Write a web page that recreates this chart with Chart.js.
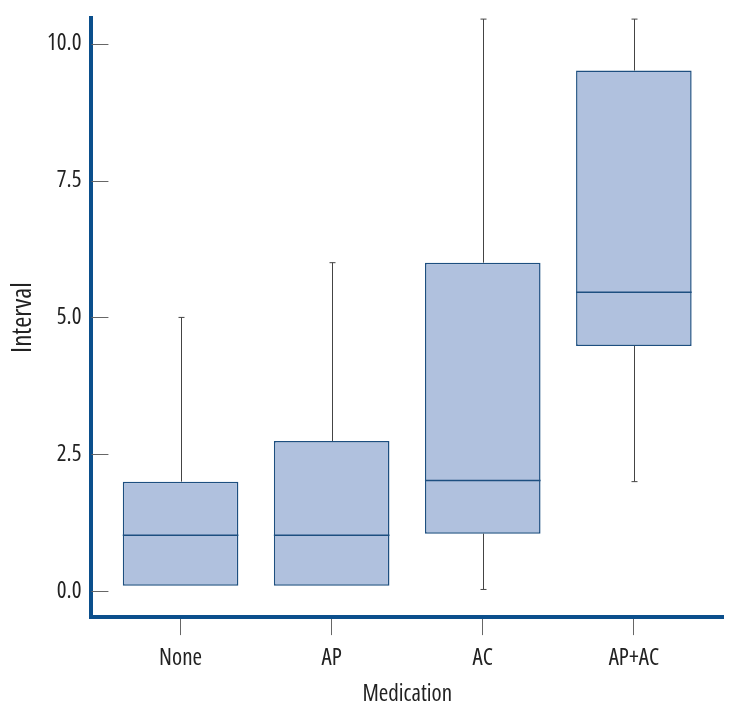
<!DOCTYPE html>
<html>
<head>
<meta charset="utf-8">
<script src="https://cdn.jsdelivr.net/npm/chart.js@4"></script>
<style>
  body { margin: 0; background: #fff; }
  #wrap { width: 738px; height: 708px; }
</style>
</head>
<body>
<div id="wrap"><canvas id="myChart" width="738" height="708"></canvas></div>
<script>
// Box plot values
const categories = ['None', 'AP', 'AC', 'AP+AC'];
const whiskerLow = [0.1, 0.1, 0.03, 2.0];
const q1 = [0.1, 0.1, 1.05, 4.48];
const median = [1.02, 1.02, 2.02, 5.46];
const q3 = [2.0, 2.74, 6.0, 9.51];
const whiskerHigh = [5.0, 6.0, 10.45, 10.45];
const yTicks = [0, 2.5, 5, 7.5, 10];

// 'condensed' goes in the weight slot so the canvas font string picks the narrow width
const FONT = "'Open Sans', 'Roboto Condensed', sans-serif";
const AXIS_BLUE = '#0b4f8c';
const BOX_EDGE = '#1d4f80';

// draws whiskers, caps, medians and the inward y ticks
const boxExtras = {
    id: 'boxExtras',
    afterDatasetsDraw(chart) {
        const ctx = chart.ctx;
        const xs = chart.scales.x, ys = chart.scales.y;
        const meta = chart.getDatasetMeta(0);
        ctx.save();
        categories.forEach((c, i) => {
            const x = Math.round(xs.getPixelForValue(i)) + 0.5;
            const bar = meta.data[i];
            const half = bar.width / 2;
            ctx.strokeStyle = '#444';
            ctx.lineWidth = 1;
            ctx.beginPath();
            if (whiskerHigh[i] > q3[i]) {
                const yTop = ys.getPixelForValue(whiskerHigh[i]);
                ctx.moveTo(x, ys.getPixelForValue(q3[i]));
                ctx.lineTo(x, yTop);
                ctx.moveTo(x - 3, yTop);
                ctx.lineTo(x + 3, yTop);
            }
            if (whiskerLow[i] < q1[i]) {
                const yBot = ys.getPixelForValue(whiskerLow[i]);
                ctx.moveTo(x, ys.getPixelForValue(q1[i]));
                ctx.lineTo(x, yBot);
                ctx.moveTo(x - 3, yBot);
                ctx.lineTo(x + 3, yBot);
            }
            ctx.stroke();
            // median
            const ym = ys.getPixelForValue(median[i]);
            ctx.strokeStyle = BOX_EDGE;
            ctx.lineWidth = 1.5;
            ctx.beginPath();
            ctx.moveTo(bar.x - half, ym);
            ctx.lineTo(bar.x + half, ym);
            ctx.stroke();
        });
        // y ticks point into the plot
        ctx.strokeStyle = '#666';
        ctx.lineWidth = 1;
        ctx.beginPath();
        yTicks.forEach(v => {
            const y = Math.round(ys.getPixelForValue(v)) + 0.5;
            ctx.moveTo(chart.chartArea.left, y);
            ctx.lineTo(chart.chartArea.left + 17, y);
        });
        ctx.stroke();
        ctx.restore();
    }
};

const ctx = document.getElementById('myChart').getContext('2d');
new Chart(ctx, {
    type: 'bar',
    data: {
        datasets: [{
            data: categories.map((c, i) => ({ x: i, y: [q1[i], q3[i]] })),
            backgroundColor: '#b0c1de',
            borderColor: BOX_EDGE,
            borderWidth: 1.5,
            borderSkipped: false,
            categoryPercentage: 1,
            barPercentage: 0.765
        }]
    },
    options: {
        responsive: false,
        animation: false,
        layout: { padding: { left: 10, top: 18, right: 15, bottom: 1 } },
        plugins: { legend: { display: false }, tooltip: { enabled: false } },
        scales: {
            x: {
                type: 'linear',
                offset: false,
                min: -0.59,
                max: 3.59,
                afterBuildTicks: axis => { axis.ticks = [0, 1, 2, 3].map(v => ({ value: v })); },
                ticks: {
                    callback: v => categories[v],
                    color: '#222',
                    font: { family: FONT, weight: 'condensed', size: 23 },
                    padding: 9.5
                },
                grid: { offset: false, drawOnChartArea: false, drawTicks: true, tickLength: 18, color: '#666' },
                border: { color: AXIS_BLUE, width: 4 },
                title: {
                    display: true,
                    text: 'Medication',
                    color: '#222',
                    font: { family: FONT, weight: 'condensed', size: 23, lineHeight: 1.1 },
                    padding: { top: 0, bottom: 0 }
                }
            },
            y: {
                min: -0.475,
                max: 10.47,
                afterBuildTicks: axis => { axis.ticks = yTicks.map(v => ({ value: v })); },
                // the top tick sits well below the max, so no label room is needed up there
                afterFit: axis => { axis.paddingTop = 0; },
                ticks: {
                    callback: v => v.toFixed(1),
                    color: '#222',
                    font: { family: FONT, weight: 'condensed', size: 23 },
                    padding: 10
                },
                grid: { display: true, drawOnChartArea: false, drawTicks: false },
                border: { color: AXIS_BLUE, width: 4 },
                title: {
                    display: true,
                    text: 'Interval',
                    color: '#222',
                    font: { family: FONT, weight: 'condensed', size: 27, lineHeight: 1 },
                    padding: { top: 0, bottom: 0 }
                }
            }
        }
    },
    plugins: [boxExtras]
});
</script>
</body>
</html>
